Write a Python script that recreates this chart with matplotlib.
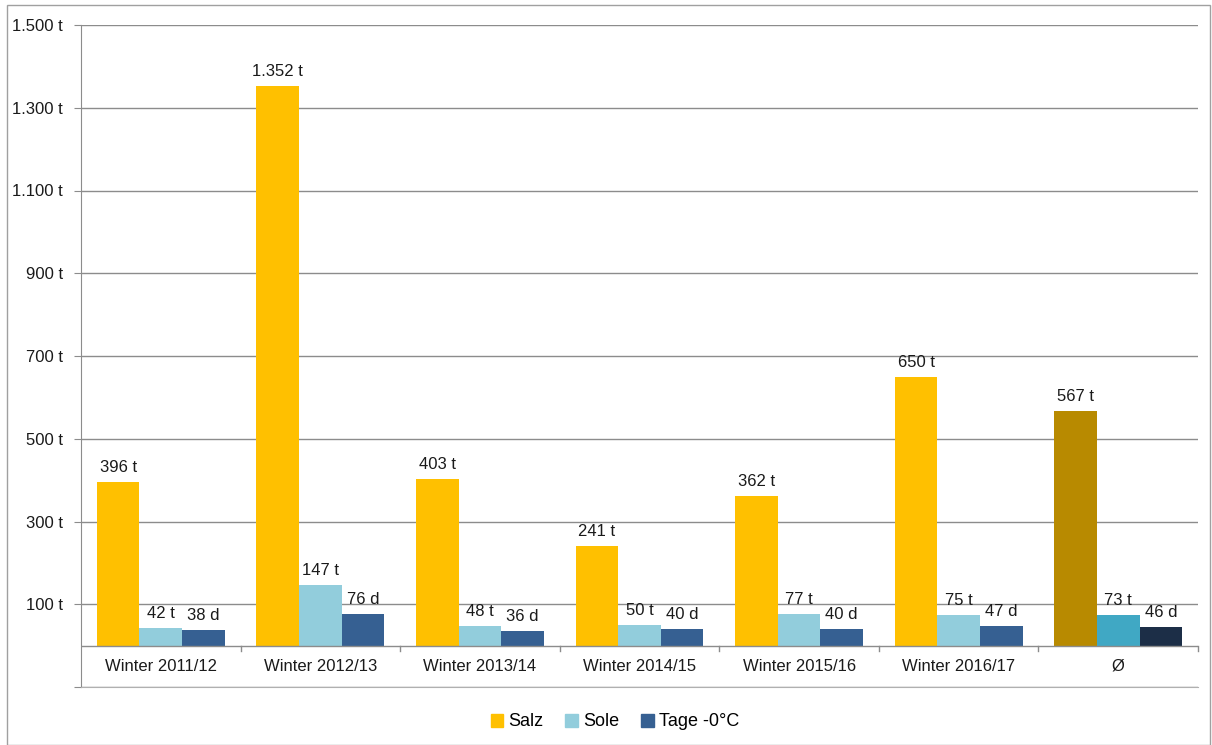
import numpy as np
import matplotlib.pyplot as plt
from matplotlib.patches import Rectangle, Patch

plt.rcParams['font.family'] = ['Liberation Sans', 'DejaVu Sans']

kategorien = ["Winter 2011/12", "Winter 2012/13", "Winter 2013/14", "Winter 2014/15",
              "Winter 2015/16", "Winter 2016/17", "Ø"]
salz = [396, 1352, 403, 241, 362, 650, 567]
sole = [42, 147, 48, 50, 77, 75, 73]
tage = [38, 76, 36, 40, 40, 47, 46]
y_ticks = [-100, 100, 300, 500, 700, 900, 1100, 1300, 1500]

# Farben (letzte Gruppe = Durchschnitt, dunkler)
c_salz = ["#FFC000"] * 6 + ["#B88A00"]
c_sole = ["#92CDDC"] * 6 + ["#40A8C4"]
c_tage = ["#366092"] * 6 + ["#1C2E47"]

def fmt(v, unit):
    return f"{v:,}".replace(",", ".") + " " + unit

fig = plt.figure(figsize=(12.12, 7.45), dpi=100)
ax = fig.add_axes([81/1212, 1 - 687/745, (1198 - 81)/1212, (687 - 25)/745])

x = np.arange(len(kategorien))
w = 0.267
b1 = ax.bar(x - w, salz, w, color=c_salz, zorder=3)
b2 = ax.bar(x, sole, w, color=c_sole, zorder=3)
b3 = ax.bar(x + w, tage, w, color=c_tage, zorder=3)

fs = 12
for bars, vals, unit in [(b1, salz, "t"), (b2, sole, "t"), (b3, tage, "d")]:
    for b, v in zip(bars, vals):
        ax.annotate(fmt(v, unit), (b.get_x() + b.get_width()/2, v), xytext=(0, 5),
                    textcoords="offset points", ha="center", va="bottom",
                    fontsize=fs, color="#1a1a1a")

ax.set_xlim(-0.5, len(kategorien) - 0.5)
ax.set_ylim(-100, 1500)
ax.set_yticks(y_ticks)
ax.set_yticklabels([fmt(v, "t") if v > 0 else "" for v in y_ticks], fontsize=fs, color="#1a1a1a")
ax.tick_params(axis="y", length=5, color="#8c8c8c", pad=8)
ax.set_xticks([])

for s in ["top", "right"]:
    ax.spines[s].set_visible(False)
ax.spines["left"].set_color("#8c8c8c")
ax.spines["bottom"].set_color("#b0b0b0")
ax.yaxis.grid(True, color="#8c8c8c", lw=1)
ax.set_axisbelow(True)

# x-Achse bei 0 mit Trennstrichen
ax.axhline(0, color="#8c8c8c", lw=1, zorder=4)
for k in range(1, len(kategorien) + 1):
    ax.plot([k - 0.5, k - 0.5], [0, -14], color="#8c8c8c", lw=1, zorder=4, clip_on=False)
for i, name in enumerate(kategorien):
    ax.text(i, -50, name, ha="center", va="center", fontsize=fs, color="#1a1a1a")

handles = [Patch(color="#FFC000"), Patch(color="#92CDDC"), Patch(color="#366092")]
fig.legend(handles, ["Salz", "Sole", "Tage -0°C"], loc="center",
           bbox_to_anchor=(615/1212, 1 - 722/745), ncol=3, frameon=False,
           fontsize=13, handlelength=0.7, handleheight=0.7, handletextpad=0.3,
           columnspacing=1.2)

fig.patches.append(Rectangle((7/1212, 0), 1203/1212, 1 - 5/745, transform=fig.transFigure,
                             fill=False, edgecolor="#a0a0a0", lw=1))

fig.savefig("out.png", dpi=100)
